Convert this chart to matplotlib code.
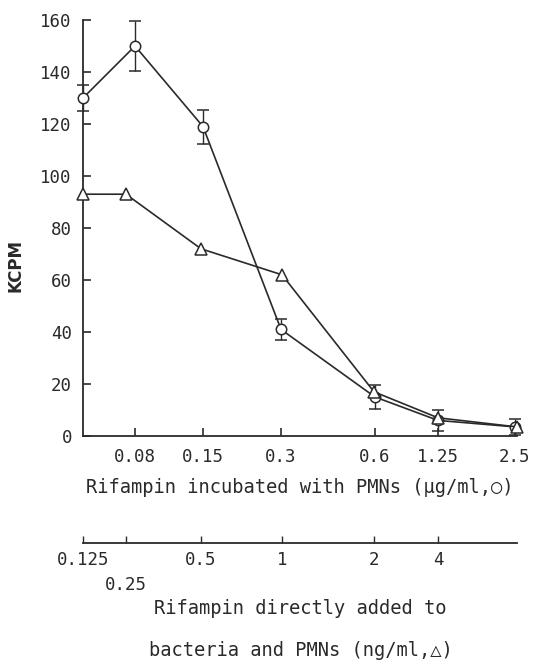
import matplotlib.pyplot as plt
import numpy as np

# circles: rifampin incubated with PMNs (ug/ml)
pmn_labels = ['', '0.08', '0.15', '0.3', '0.6', '1.25', '2.5']
pmn_kcpm = [130, 150, 119, 41, 15, 6, 3.5]
pmn_err = [5, 9.5, 6.5, 4, 4.5, 4, 3]

# triangles: rifampin added directly to bacteria and PMNs (ng/ml)
direct_labels = ['0.125', '0.25', '0.5', '1', '2', '4', '']
direct_kcpm = [93, 93, 72, 62, 17, 7, 3.5]

# horizontal layout of the hand-drawn axes (not evenly spaced)
pmn_pos = [0, 52, 120, 198, 292, 355, 432]
direct_pos = [0, 43, 118, 199, 291, 355, 434]

W, H = 534, 661
fig = plt.figure(figsize=(W / 100, H / 100), dpi=100)

ink = '#2a2a2a'
mono = ['DejaVu Sans Mono', 'DejaVu Sans']

ax = fig.add_axes([83 / W, (H - 436) / H, 434 / W, 416 / H])
ax.set_xlim(0, 434)
ax.set_ylim(0, 160)
for s in ['top', 'right']:
    ax.spines[s].set_visible(False)
for s in ['left', 'bottom']:
    ax.spines[s].set_linewidth(1.3)
    ax.spines[s].set_color(ink)

ax.errorbar(pmn_pos, pmn_kcpm, yerr=pmn_err, color=ink, lw=1.2, elinewidth=1.0,
            capsize=4, capthick=1.0, marker='o', ms=7.5, mfc='white', mec=ink,
            mew=1.1, clip_on=False, zorder=3)
ax.plot(direct_pos, direct_kcpm, color=ink, lw=1.2, marker='^', ms=8.5,
        mfc='white', mec=ink, mew=1.1, clip_on=False, zorder=4)

ax.set_yticks(np.arange(0, 161, 20))
ax.set_yticklabels([str(v) for v in range(0, 161, 20)], family=mono, fontsize=12.5, color=ink)
ax.set_xticks(pmn_pos[1:])
ax.set_xticklabels(pmn_labels[1:], family=mono, fontsize=12.5, color=ink)
ax.tick_params(axis='y', direction='in', length=6, width=1.2, color=ink, pad=8)
ax.tick_params(axis='x', direction='in', length=6, width=1.2, color=ink, pad=9)

ax.set_ylabel('KCPM', fontsize=12, color=ink, fontweight='semibold')
ax.yaxis.set_label_coords(-0.134, 0.41)
ax.set_xlabel('Rifampin incubated with PMNs (\u03bcg/ml,\u25cb)', family=mono,
              fontsize=13.5, color=ink, labelpad=8)

# second scale below for the triangles
ax2 = fig.add_axes([83 / W, (H - 543) / H, 434 / W, 0.001])
ax2.set_xlim(0, 434)
ax2.set_yticks([])
for s in ['top', 'right', 'left']:
    ax2.spines[s].set_visible(False)
ax2.spines['bottom'].set_linewidth(1.3)
ax2.spines['bottom'].set_color(ink)
ax2.set_xticks(direct_pos[:-1])
ax2.set_xticklabels([l if l != '0.25' else '\n0.25' for l in direct_labels[:-1]],
                    family=mono, fontsize=12.5, color=ink, linespacing=1.5)
ax2.tick_params(axis='x', direction='in', length=5, width=1.0, color=ink, pad=6)
for t in ax2.get_xticklabels():
    t.set_verticalalignment('top')

fig.text(300 / W, 1 - 609 / H, 'Rifampin directly added to', ha='center', va='center',
         family=mono, fontsize=13.5, color=ink)
fig.text(301 / W, 1 - 651 / H, 'bacteria and PMNs (ng/ml,\u25b3)', ha='center', va='center',
         family=mono, fontsize=13.5, color=ink)

fig.savefig('out.png', dpi=100)
